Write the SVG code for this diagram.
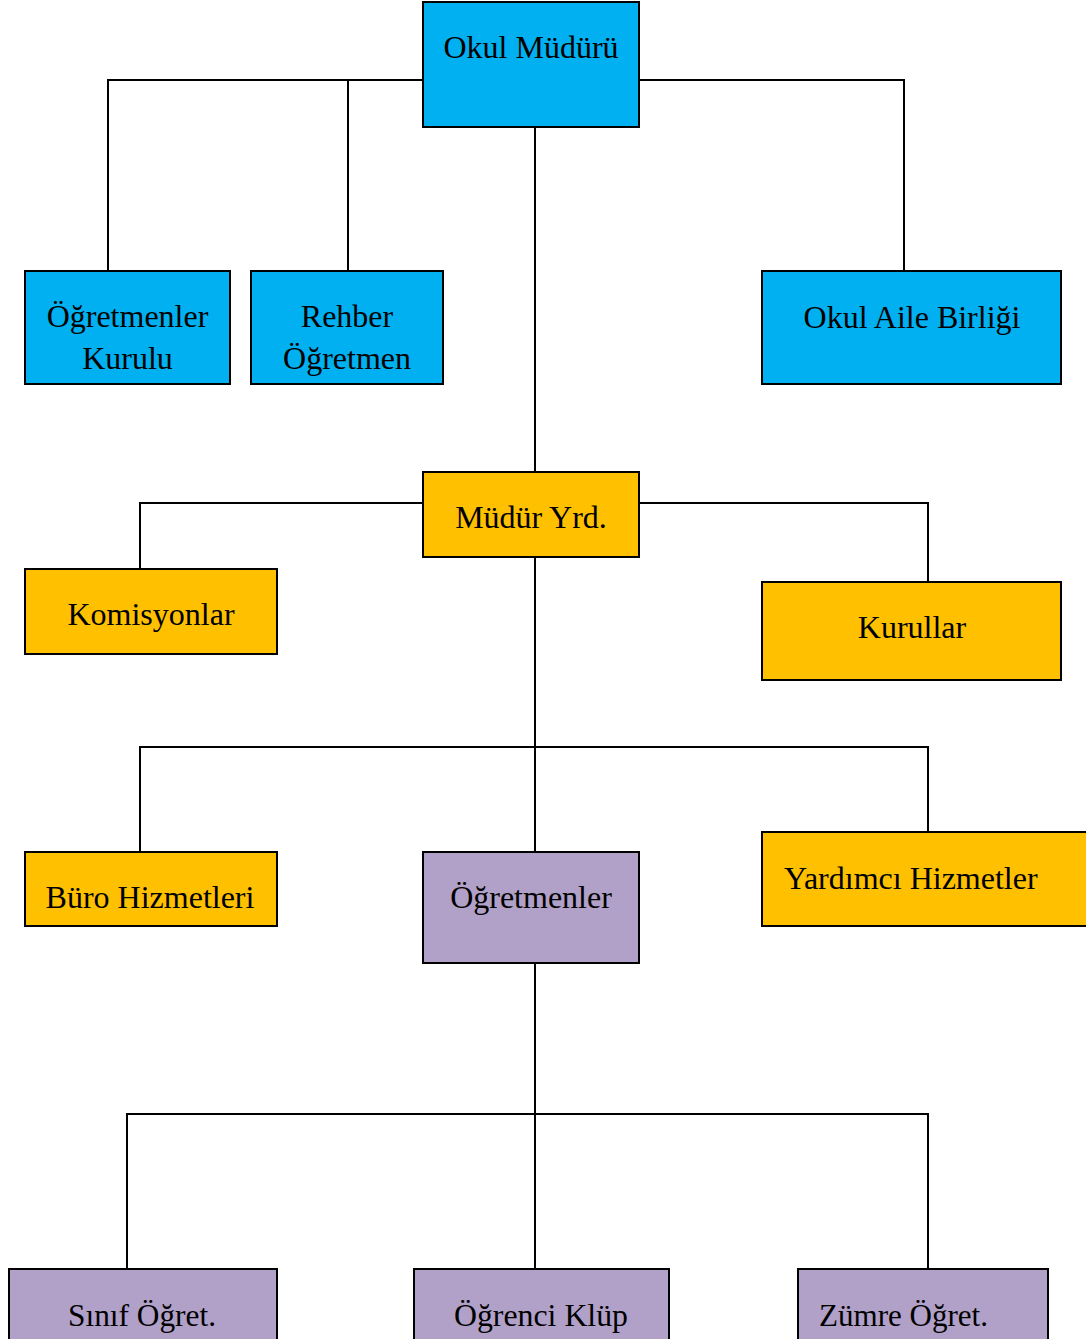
<svg xmlns="http://www.w3.org/2000/svg" width="1086" height="1339" viewBox="0 0 1086 1339">
<style>
.box{stroke:#000;stroke-width:2}
.blue{fill:#00B0F0}
.orange{fill:#FFC000}
.purple{fill:#B1A0C7}
text{font-family:"Liberation Serif","Times New Roman",serif;font-size:32px;fill:#000}
.c{text-anchor:middle}
.conn{stroke:#000;stroke-width:2;fill:none}
</style>
<rect width="1086" height="1339" fill="#fff"/>
<g id="connectors" class="conn">
<polyline points="423,80 108,80 108,271"/>
<line x1="348" y1="80" x2="348" y2="271"/>
<polyline points="639,80 904,80 904,271"/>
<line x1="535" y1="127" x2="535" y2="472"/>
<polyline points="423,503 140,503 140,569"/>
<polyline points="639,503 928,503 928,582"/>
<line x1="535" y1="557" x2="535" y2="852"/>
<polyline points="140,852 140,747 928,747 928,832"/>
<line x1="535" y1="963" x2="535" y2="1269"/>
<polyline points="127,1269 127,1114 928,1114 928,1269"/>
</g>
<g id="okul-muduru"><rect class="box blue" x="423" y="2" width="216" height="125"/><text class="c" x="531" y="58">Okul Müdürü</text></g>
<g id="ogretmenler-kurulu"><rect class="box blue" x="25" y="271" width="205" height="113"/><text class="c" x="127.5" y="327">Öğretmenler</text><text class="c" x="127.5" y="369">Kurulu</text></g>
<g id="rehber-ogretmen"><rect class="box blue" x="251" y="271" width="192" height="113"/><text class="c" x="347" y="327">Rehber</text><text class="c" x="347" y="369">Öğretmen</text></g>
<g id="okul-aile-birligi"><rect class="box blue" x="762" y="271" width="299" height="113"/><text class="c" x="912" y="328">Okul Aile Birliği</text></g>
<g id="mudur-yrd"><rect class="box orange" x="423" y="472" width="216" height="85"/><text class="c" x="531" y="528">Müdür Yrd.</text></g>
<g id="komisyonlar"><rect class="box orange" x="25" y="569" width="252" height="85"/><text class="c" x="151" y="625">Komisyonlar</text></g>
<g id="kurullar"><rect class="box orange" x="762" y="582" width="299" height="98"/><text class="c" x="912" y="638">Kurullar</text></g>
<g id="buro-hizmetleri"><rect class="box orange" x="25" y="852" width="252" height="74"/><text class="c" x="150" y="908">Büro Hizmetleri</text></g>
<g id="ogretmenler"><rect class="box purple" x="423" y="852" width="216" height="111"/><text class="c" x="531" y="908">Öğretmenler</text></g>
<g id="yardimci-hizmetler"><rect class="box orange" x="762" y="832" width="330" height="94"/><text x="784" y="889">Yardımcı Hizmetler</text></g>
<g id="sinif-ogret"><rect class="box purple" x="9" y="1269" width="268" height="80"/><text x="68" y="1326" font-size="34" textLength="148" lengthAdjust="spacingAndGlyphs">Sınıf Öğret.</text></g>
<g id="ogrenci-klup"><rect class="box purple" x="414" y="1269" width="255" height="80"/><text x="454" y="1326" font-size="34" textLength="174" lengthAdjust="spacingAndGlyphs">Öğrenci Klüp</text></g>
<g id="zumre-ogret"><rect class="box purple" x="798" y="1269" width="250" height="80"/><text x="819" y="1326" font-size="34" textLength="169" lengthAdjust="spacingAndGlyphs">Zümre Öğret.</text></g>
</svg>
